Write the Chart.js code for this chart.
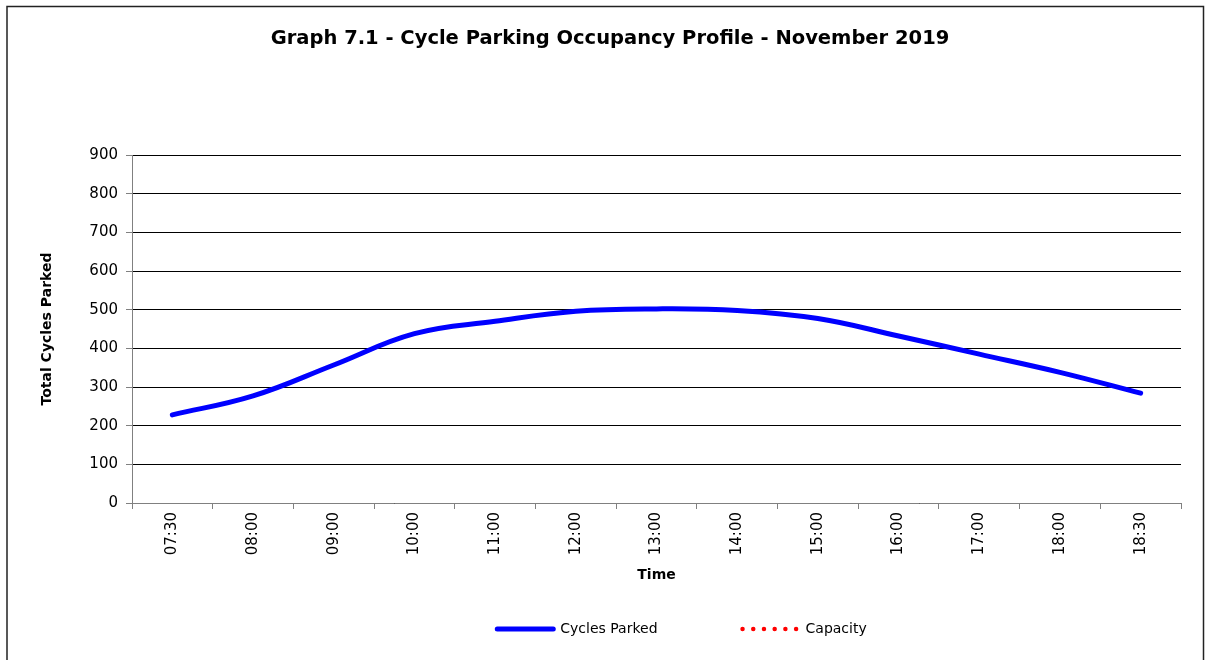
<!DOCTYPE html>
<html>
<head>
<meta charset="utf-8">
<script src="https://cdn.jsdelivr.net/npm/chart.js@4/dist/chart.umd.min.js"></script>
<style>
  html, body { margin: 0; padding: 0; background: #fff; }
  #wrap { position: relative; width: 1205px; height: 660px; }
</style>
</head>
<body>
<div id="wrap"><canvas id="c" width="1205" height="660"></canvas></div>
<script>
const categories = ['07:30','08:00','09:00','10:00','11:00','12:00','13:00','14:00','15:00','16:00','17:00','18:00','18:30'];
const cyclesParked = [228, 277, 357, 438, 470, 496, 502, 498, 477, 432, 385, 338, 284];
const capacity = [null, null, null, null, null, null, null, null, null, null, null, null, null];
const yTicks = [0, 100, 200, 300, 400, 500, 600, 700, 800, 900];

const FONT = "'DejaVu Sans', Verdana, sans-serif";

const frame = {
  id: 'frame',
  beforeDraw(chart) {
    const ctx = chart.ctx;
    ctx.save();
    ctx.fillStyle = '#fff';
    ctx.fillRect(0, 0, chart.width, chart.height);
    ctx.strokeStyle = '#222';
    ctx.lineWidth = 1.5;
    ctx.strokeRect(7, 6.5, 1196.5, 720);
    ctx.restore();
  }
};

const legendPlace = {
  id: 'legendPlace',
  afterLayout(chart) {
    const lg = chart.legend;
    const dx = 682 - (lg.left + lg.right) / 2;
    lg.left += dx; lg.right += dx;
    lg.top = 622 - 85;
    lg.bottom = 660;
  }
};

new Chart(document.getElementById('c'), {
  type: 'line',
  data: {
    labels: categories,
    datasets: [
      {
        label: 'Cycles Parked',
        data: cyclesParked,
        borderColor: '#0000FF',
        backgroundColor: '#0000FF',
        borderWidth: 5,
        borderCapStyle: 'round',
        borderJoinStyle: 'round',
        tension: 0.4,
        pointRadius: 0,
        fill: false
      },
      {
        label: 'Capacity',
        data: capacity,
        borderColor: '#FF0000',
        backgroundColor: '#FF0000',
        borderWidth: 4.5,
        borderDash: [0.01, 10.7],
        borderCapStyle: 'round',
        pointRadius: 0,
        fill: false
      }
    ]
  },
  options: {
    responsive: false,
    animation: false,
    devicePixelRatio: 1,
    layout: { padding: { left: 39, right: 24, top: 0, bottom: 0 } },
    plugins: {
      title: {
        display: true,
        text: 'Graph 7.1 - Cycle Parking Occupancy Profile - November 2019',
        color: '#000',
        font: { family: FONT, size: 19.5, weight: 'bold' },
        padding: { top: 27, bottom: 104.6 }
      },
      legend: {
        display: true,
        position: 'bottom',
        maxHeight: 40,
        labels: {
          usePointStyle: true,
          pointStyle: 'line',
          pointStyleWidth: 56,
          boxWidth: 56,
          padding: 85,
          color: '#000',
          font: { family: FONT, size: 14 },
          generateLabels(chart) {
            const items = Chart.defaults.plugins.legend.labels.generateLabels(chart);
            items.forEach(it => {
              const ds = chart.data.datasets[it.datasetIndex];
              it.lineDash = ds.borderDash || [];
              it.lineCap = ds.borderCapStyle || 'butt';
              it.lineWidth = ds.borderWidth;
              it.strokeStyle = ds.borderColor;
              it.pointStyle = 'line';
            });
            return items;
          }
        }
      },
      tooltip: { enabled: false }
    },
    scales: {
      x: {
        type: 'category',
        offset: true,
        grid: {
          offset: true,
          drawOnChartArea: false,
          drawTicks: true,
          tickLength: 6,
          tickColor: '#808080'
        },
        border: { color: '#808080', width: 1 },
        ticks: {
          color: '#000',
          font: { family: FONT, size: 15 },
          maxRotation: 90,
          minRotation: 90,
          autoSkip: false,
          padding: 3
        },
        title: {
          display: true,
          text: 'Time',
          color: '#000',
          font: { family: FONT, size: 14, weight: 'bold' },
          padding: { top: 0, bottom: 36 }
        },
        afterFit(scale) { scale.height = 117; }
      },
      y: {
        min: 0,
        max: 900,
        afterBuildTicks(scale) { scale.ticks = yTicks.map(v => ({ value: v })); },
        grid: {
          color: '#000',
          lineWidth: 1,
          drawTicks: true,
          tickLength: 6,
          tickColor: '#808080'
        },
        border: { color: '#808080', width: 1 },
        ticks: {
          color: '#000',
          font: { family: FONT, size: 15 },
          padding: 8
        },
        title: {
          display: true,
          text: 'Total Cycles Parked',
          color: '#000',
          font: { family: FONT, size: 14, weight: 'bold' },
          padding: { top: 0, bottom: 0 }
        },
        afterFit(scale) { scale.width = 93; }
      }
    }
  },
  plugins: [frame, legendPlace]
});
</script>
</body>
</html>
